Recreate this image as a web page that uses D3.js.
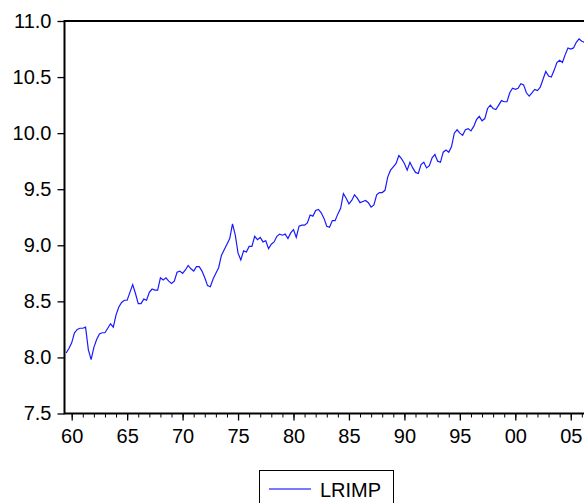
<!DOCTYPE html>
<html>
<head>
<meta charset="utf-8">
<script src="https://cdn.jsdelivr.net/npm/d3@7"></script>
<style>
  body { margin: 0; background: #fff; }
  svg { display: block; font-family: "Liberation Sans", Arial, sans-serif; }
</style>
</head>
<body>
<div id="chart"></div>
<script>
// Quarterly series, first observation 1959Q3
const startYear = 1959.5;
const lrimp = [
  8.04, 8.08, 8.13, 8.22, 8.25, 8.26, 8.26, 8.27, 8.07, 7.98, 8.09, 8.16, 8.21, 8.22, 8.22, 8.26,
  8.30, 8.27, 8.38, 8.45, 8.49, 8.51, 8.51, 8.58, 8.65, 8.57, 8.48, 8.48, 8.52, 8.51, 8.58, 8.61,
  8.60, 8.60, 8.71, 8.69, 8.71, 8.68, 8.66, 8.68, 8.76, 8.77, 8.75, 8.78, 8.82, 8.79, 8.77, 8.81,
  8.81, 8.77, 8.71, 8.64, 8.63, 8.70, 8.75, 8.80, 8.91, 8.96, 9.01, 9.06, 9.19, 9.09, 8.93, 8.87,
  8.95, 8.94, 8.99, 8.99, 9.08, 9.05, 9.07, 9.03, 9.04, 8.97, 9.01, 9.03, 9.08, 9.10, 9.09, 9.10,
  9.06, 9.11, 9.14, 9.07, 9.17, 9.18, 9.18, 9.20, 9.27, 9.26, 9.31, 9.32, 9.29, 9.24, 9.17, 9.16,
  9.22, 9.22, 9.28, 9.33, 9.46, 9.42, 9.37, 9.40, 9.45, 9.42, 9.38, 9.39, 9.40, 9.38, 9.34, 9.36,
  9.45, 9.47, 9.47, 9.49, 9.61, 9.67, 9.70, 9.73, 9.80, 9.77, 9.73, 9.67, 9.74, 9.69, 9.65, 9.64,
  9.72, 9.74, 9.69, 9.71, 9.78, 9.81, 9.75, 9.74, 9.83, 9.85, 9.83, 9.88, 10.00, 10.03, 10.00, 9.98,
  10.03, 10.04, 10.02, 10.06, 10.12, 10.15, 10.11, 10.13, 10.22, 10.25, 10.22, 10.21, 10.25, 10.29, 10.28,
  10.28, 10.36, 10.40, 10.39, 10.40, 10.44, 10.43, 10.36, 10.33, 10.36, 10.39, 10.38, 10.41, 10.48, 10.55,
  10.51, 10.50, 10.56, 10.63, 10.65, 10.63, 10.70, 10.76, 10.75, 10.76, 10.81, 10.84, 10.82, 10.81
];
const yTicks = [7.5, 8.0, 8.5, 9.0, 9.5, 10.0, 10.5, 11.0];
const xTickYears = [1960, 1965, 1970, 1975, 1980, 1985, 1990, 1995, 2000, 2005];
const xTickLabels = ["60", "65", "70", "75", "80", "85", "90", "95", "00", "05"];
const seriesName = "LRIMP";

const W = 584, H = 503;
const plotLeft = 64.5, plotTop = 21, plotBottom = 413.5;
const pxPerYear = 11.09;
const x0Year = 1960 - (71.7 - plotLeft) / pxPerYear;
const x1Year = 2006.6;

const data = lrimp.map((v, i) => ({ t: startYear + i / 4, v: v }));

const x = d3.scaleLinear()
  .domain([x0Year, x1Year])
  .range([plotLeft, plotLeft + (x1Year - x0Year) * pxPerYear]);
const y = d3.scaleLinear().domain([7.5, 11.0]).range([plotBottom, plotTop]);

const svg = d3.select("#chart").append("svg")
  .attr("width", W).attr("height", H);

svg.append("defs").append("clipPath").attr("id", "plot")
  .append("rect")
  .attr("x", plotLeft).attr("y", plotTop)
  .attr("width", x.range()[1] - plotLeft).attr("height", plotBottom - plotTop);

// series line
const line = d3.line().x(d => x(d.t)).y(d => y(d.v));
svg.append("path")
  .datum(data)
  .attr("clip-path", "url(#plot)")
  .attr("fill", "none")
  .attr("stroke", "#1a1aff")
  .attr("stroke-width", 1.2)
  .attr("d", line);

// y axis
const yAxis = d3.axisLeft(y).tickValues(yTicks).tickFormat(d3.format(".1f"))
  .tickSize(7).tickPadding(6);
const gy = svg.append("g").attr("transform", `translate(${plotLeft},0)`).call(yAxis);
gy.select(".domain").remove();
gy.selectAll("line").attr("stroke", "#000").attr("stroke-width", 1.3);
gy.selectAll("text").attr("font-size", 20).attr("fill", "#000")
  .attr("font-family", "Liberation Sans, Arial, sans-serif");

// x axis: minor ticks every year, labelled every five
const minorYears = d3.range(1960, 2007);
const xMinor = d3.axisBottom(x).tickValues(minorYears).tickFormat("").tickSize(4);
const gxm = svg.append("g").attr("transform", `translate(0,${plotBottom})`).call(xMinor);
gxm.select(".domain").remove();
gxm.selectAll("line").attr("stroke", "#000").attr("stroke-width", 1);

const xAxis = d3.axisBottom(x).tickValues(xTickYears)
  .tickFormat((d, i) => xTickLabels[i]).tickSize(7).tickPadding(8);
const gx = svg.append("g").attr("transform", `translate(0,${plotBottom})`).call(xAxis);
gx.select(".domain").remove();
gx.selectAll("line").attr("stroke", "#000").attr("stroke-width", 1.3);
gx.selectAll("text").attr("font-size", 20).attr("fill", "#000")
  .attr("font-family", "Liberation Sans, Arial, sans-serif");

// frame: left, top, bottom
const plotRight = x.range()[1];
svg.append("path")
  .attr("fill", "none").attr("stroke", "#000").attr("stroke-width", 2)
  .attr("d", `M${plotRight},${plotBottom}H${plotLeft}V${plotTop}H${plotRight}`);

// legend
const lg = svg.append("g");
lg.append("rect")
  .attr("x", 259.5).attr("y", 470.5).attr("width", 134).attr("height", 40)
  .attr("fill", "#fff").attr("stroke", "#000").attr("stroke-width", 1);
lg.append("line")
  .attr("x1", 269).attr("x2", 311).attr("y1", 489).attr("y2", 489)
  .attr("stroke", "#4d4dff").attr("stroke-width", 1.3);
lg.append("text")
  .attr("x", 320).attr("y", 496.5)
  .attr("font-size", 20).attr("fill", "#000")
  .text(seriesName);
</script>
</body>
</html>
